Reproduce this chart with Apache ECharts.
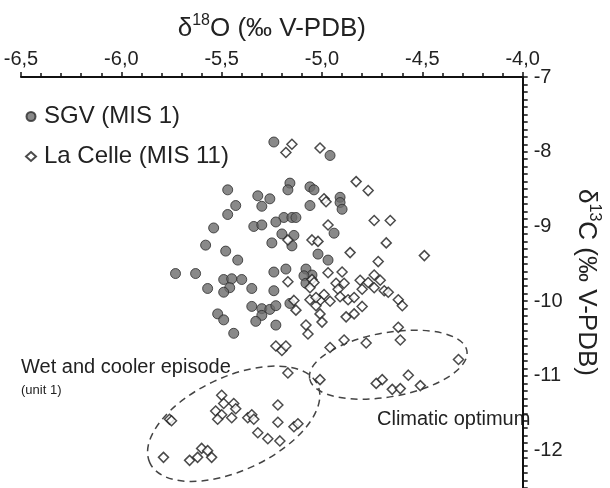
<!DOCTYPE html>
<html lang="en">
<head>
    <meta charset="utf-8">
    <script src="https://cdn.jsdelivr.net/npm/echarts@6/dist/echarts.min.js"></script>
    <style>
        html, body { margin: 0; padding: 0; background: #fff; }
        #chart { width: 610px; height: 488px; }
    </style>
</head>
<body>
<div id="chart"></div>
<script>
    // δ18O / δ13C pairs
    var sgv = [
        [-5.24, -7.87], [-4.96, -8.05], [-5.16, -8.42], [-5.17, -8.51], [-5.06, -8.47], [-5.04, -8.51],
        [-5.47, -8.51], [-5.32, -8.59], [-5.26, -8.63], [-4.91, -8.61], [-4.91, -8.68], [-4.90, -8.77],
        [-5.43, -8.72], [-5.30, -8.73], [-5.06, -8.72], [-5.47, -8.84], [-5.19, -8.88], [-5.15, -8.88],
        [-5.13, -8.88], [-5.23, -8.94], [-5.34, -9.00], [-5.30, -8.98], [-5.54, -9.02], [-4.94, -9.09],
        [-5.20, -9.10], [-5.14, -9.12], [-5.58, -9.25], [-5.25, -9.22], [-5.15, -9.26], [-5.48, -9.33],
        [-5.02, -9.37], [-5.42, -9.45], [-4.97, -9.45], [-5.73, -9.63], [-5.63, -9.63], [-5.24, -9.61],
        [-5.18, -9.57], [-5.08, -9.57], [-5.05, -9.65], [-5.09, -9.66], [-5.08, -9.76], [-5.49, -9.71],
        [-5.45, -9.70], [-5.40, -9.71], [-5.46, -9.82], [-5.49, -9.88], [-5.57, -9.83], [-5.35, -9.83],
        [-5.24, -9.86], [-5.35, -10.07], [-5.30, -10.10], [-5.26, -10.11], [-5.23, -10.06], [-5.30, -10.19],
        [-5.33, -10.27], [-5.52, -10.17], [-5.49, -10.25], [-5.23, -10.32], [-5.44, -10.43], [-5.16, -10.03]
    ];

    var laCelle = [
        [-5.15, -7.90], [-5.18, -8.01], [-5.01, -7.95], [-4.83, -8.40], [-4.77, -8.52], [-4.99, -8.63],
        [-4.98, -8.67], [-4.74, -8.92], [-4.66, -8.92], [-4.97, -8.98], [-5.05, -9.18], [-5.02, -9.20],
        [-5.17, -9.18], [-4.68, -9.22], [-4.49, -9.39], [-4.86, -9.35], [-4.72, -9.47], [-4.97, -9.62],
        [-4.90, -9.61], [-4.74, -9.65], [-5.05, -9.71], [-5.04, -9.75], [-4.93, -9.76], [-4.89, -9.76],
        [-4.81, -9.72], [-4.77, -9.75], [-4.71, -9.72], [-4.74, -9.82], [-4.92, -9.84], [-4.80, -9.84],
        [-4.69, -9.86], [-4.67, -9.88], [-4.91, -9.94], [-4.87, -9.98], [-4.84, -9.95], [-4.96, -10.00],
        [-5.01, -9.99], [-5.06, -9.98], [-4.99, -9.91], [-4.62, -9.98], [-4.60, -10.06], [-4.80, -10.07],
        [-5.03, -10.06], [-5.01, -10.17], [-5.00, -10.28], [-4.88, -10.21], [-4.84, -10.17], [-4.62, -10.35],
        [-4.89, -10.52], [-4.96, -10.62], [-4.78, -10.56], [-4.61, -10.52], [-4.32, -10.78], [-5.17, -9.74],
        [-5.06, -9.82], [-5.14, -9.99], [-5.13, -10.12], [-5.03, -9.95], [-5.08, -10.32], [-5.07, -10.44],
        [-5.23, -10.60], [-5.20, -10.66], [-5.18, -10.60], [-5.17, -10.96], [-5.01, -11.05], [-4.70, -11.05],
        [-4.73, -11.10], [-4.65, -11.18], [-4.61, -11.17], [-4.57, -10.99], [-4.51, -11.13], [-5.50, -11.26],
        [-5.49, -11.37], [-5.44, -11.37], [-5.53, -11.47], [-5.50, -11.52], [-5.52, -11.58], [-5.45, -11.56],
        [-5.43, -11.44], [-5.76, -11.58], [-5.75, -11.60], [-5.22, -11.39], [-5.37, -11.56], [-5.35, -11.52],
        [-5.34, -11.58], [-5.22, -11.62], [-5.14, -11.68], [-5.12, -11.64], [-5.32, -11.76], [-5.27, -11.84],
        [-5.21, -11.87], [-5.79, -12.09], [-5.66, -12.13], [-5.62, -12.09], [-5.60, -11.97], [-5.57, -12.00],
        [-5.55, -12.09]
    ];

    // dashed groupings: centre (δ18O, δ13C), half axes in δ18O units, tilt in degrees
    var groupCentres = [[-5.44, -11.64], [-4.67, -10.85]];
    var groupHalfAxes = [[0.461, 0.233], [0.398, 0.160]];
    var groupTilt = [25, 10];
    var groupLabels = ['Wet and cooler episode', 'Climatic optimum'];

    var ellipseData = groupCentres.map(function (c, i) {
        return [c[0], c[1], groupHalfAxes[i][0], groupHalfAxes[i][1], groupTilt[i]];
    });

    var font = 'Liberation Sans, Arial, sans-serif';
    var chart = echarts.init(document.getElementById('chart'), null, { renderer: 'canvas' });

    var nameRich = {
        n: { fontFamily: font, fontSize: 26, color: '#222' },
        s: { fontFamily: font, fontSize: 16, color: '#222', padding: [0, 0, 15, 0] }
    };

    var option = {
        animation: false,
        backgroundColor: '#fff',
        grid: { left: 21, top: 77, width: 515, height: 416 },
        legend: {
            data: ['SGV (MIS 1)', 'La Celle (MIS 11)'],
            orient: 'vertical',
            left: 20,
            top: 99,
            itemWidth: 10,
            itemHeight: 9,
            itemGap: 15,
            textStyle: { fontFamily: font, fontSize: 24, color: '#222', lineHeight: 25, padding: [0, 0, 0, 3] }
        },
        xAxis: {
            type: 'value',
            position: 'top',
            min: -6.5,
            max: -4.0,
            interval: 0.5,
            name: '{n|δ}{s|18}{n|O (‰ V-PDB)}',
            nameLocation: 'middle',
            nameGap: 33,
            nameTextStyle: { rich: nameRich },
            axisLine: { onZero: false, lineStyle: { color: '#111', width: 2 } },
            axisTick: { length: 5, lineStyle: { color: '#111', width: 1.5 } },
            minorTick: { show: true, splitNumber: 5, length: 4, lineStyle: { color: '#111', width: 1.5 } },
            splitLine: { show: false },
            axisLabel: {
                margin: 8,
                fontFamily: font,
                fontSize: 20,
                color: '#222',
                formatter: function (v) { return v.toFixed(1).replace('.', ','); }
            }
        },
        yAxis: {
            type: 'value',
            position: 'right',
            min: -12.5,
            max: -7,
            interval: 0.5,
            name: '{n|δ}{s|13}{n|C (‰ V-PDB)}',
            nameLocation: 'middle',
            nameRotate: -90,
            nameGap: 46,
            nameTextStyle: { rich: nameRich },
            axisLine: { onZero: false, lineStyle: { color: '#111', width: 2 } },
            axisTick: { length: 5, lineStyle: { color: '#111', width: 1.5 } },
            minorTick: { show: true, splitNumber: 5, length: 5, lineStyle: { color: '#111', width: 1.5 } },
            splitLine: { show: false },
            axisLabel: {
                margin: 11,
                fontFamily: font,
                fontSize: 20,
                color: '#222',
                formatter: function (v) {
                    return Math.abs(v - Math.round(v)) < 1e-6 ? String(Math.round(v)) : '';
                }
            }
        },
        graphic: [
            { type: 'text', left: 21, top: 357, style: { text: groupLabels[0], font: '20px ' + font, fill: '#222' } },
            { type: 'text', left: 21, top: 384, style: { text: '(unit 1)', font: '13px ' + font, fill: '#222' } },
            { type: 'text', left: 377, top: 409, style: { text: groupLabels[1], font: '20px ' + font, fill: '#222' } }
        ],
        series: [
            {
                name: 'groups',
                type: 'custom',
                data: ellipseData,
                silent: true,
                z: 1,
                renderItem: function (params, api) {
                    var c = api.coord([api.value(0), api.value(1)]);
                    var rx = api.size([api.value(2), 0])[0];
                    var ry = api.size([api.value(3), 0])[0];
                    return {
                        type: 'ellipse',
                        x: c[0],
                        y: c[1],
                        rotation: api.value(4) * Math.PI / 180,
                        shape: { cx: 0, cy: 0, rx: rx, ry: ry },
                        style: { fill: 'none', stroke: '#444', lineWidth: 1.5, lineDash: [7, 5] }
                    };
                }
            },
            {
                name: 'SGV (MIS 1)',
                type: 'scatter',
                data: sgv,
                symbol: 'circle',
                symbolSize: 10,
                z: 2,
                itemStyle: { color: '#6c6c6c', borderColor: '#2a2a2a', borderWidth: 1 }
            },
            {
                name: 'La Celle (MIS 11)',
                type: 'scatter',
                data: laCelle,
                symbol: 'diamond',
                symbolSize: 10,
                z: 3,
                itemStyle: { color: '#fff', borderColor: '#1e1e1e', borderWidth: 1.5 }
            }
        ]
    };
    chart.setOption(option);
</script>
</body>
</html>
